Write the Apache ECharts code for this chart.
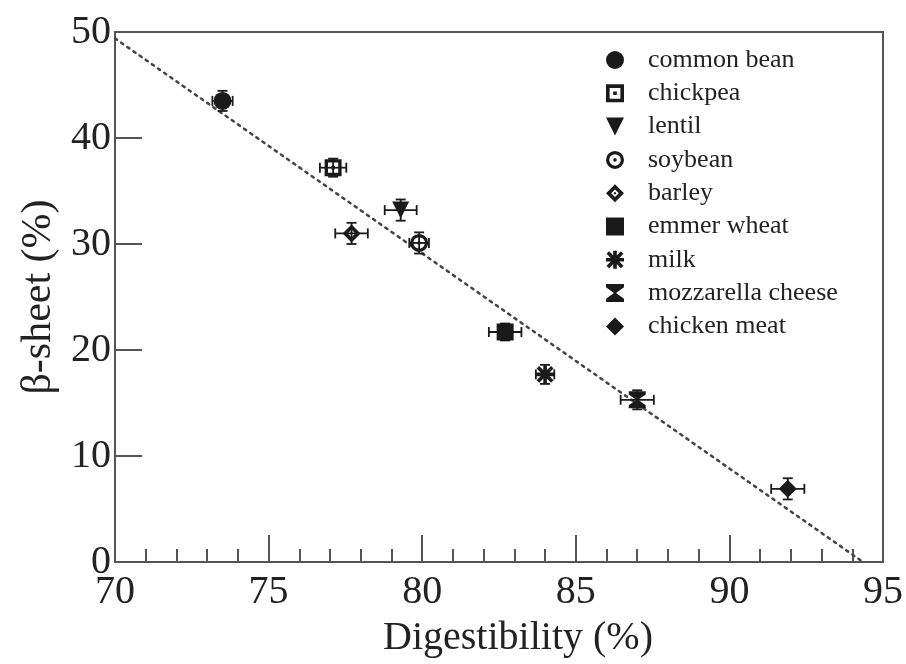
<!DOCTYPE html>
<html>
<head>
<meta charset="utf-8">
<script src="https://cdn.jsdelivr.net/npm/echarts@6/dist/echarts.min.js"></script>
<style>
  html, body { margin: 0; padding: 0; background: #fff; }
  #chart { width: 906px; height: 664px; }
</style>
</head>
<body>
<div id="chart"></div>
<script>
// values
var names = ['common bean', 'chickpea', 'lentil', 'soybean', 'barley',
  'emmer wheat', 'milk', 'mozzarella cheese', 'chicken meat'];
var digest = [73.5, 77.1, 79.3, 79.9, 77.7, 82.7, 84.0, 87.0, 91.9];
var betaSheet = [43.5, 37.2, 33.2, 30.1, 31.0, 21.7, 17.7, 15.3, 6.9];
var digestErr = [0.33, 0.43, 0.52, 0.32, 0.53, 0.53, 0.3, 0.54, 0.54];
var betaErr = [0.95, 0.85, 1.0, 1.0, 1.0, 0.8, 0.9, 0.9, 1.0];
var fitX = [70, 94.3];
var fitY = [49.4, 0.1];

var ink = '#1a1a1a';
var frame = '#555';
var font = '"Liberation Serif", "DejaVu Serif", serif';

var symbols = [
  'circle',
  'path://M0,0 L10,0 L10,10 L0,10 Z M2,2 L2,8 L8,8 L8,2 Z M4,4 L6,4 L6,6 L4,6 Z',
  'path://M0,0 L10,0 L5,10 Z',
  'path://M5,0 A5,5 0 1,1 5,10 A5,5 0 1,1 5,0 Z M5,1.8 A3.2,3.2 0 1,0 5,8.2 A3.2,3.2 0 1,0 5,1.8 Z M5,4 A1,1 0 1,1 5,6 A1,1 0 1,1 5,4 Z',
  'path://M5,0 L10,5 L5,10 L0,5 Z M5,2.9 L2.9,5 L5,7.1 L7.1,5 Z M5,4.2 L5.8,5 L5,5.8 L4.2,5 Z',
  'rect',
  'path://M0,4 L10,4 L10,6 L0,6 Z M4,0 L6,0 L6,10 L4,10 Z M1.7,0.3 L9.7,8.3 L8.3,9.7 L0.3,1.7 Z M8.3,0.3 L9.7,1.7 L1.7,9.7 L0.3,8.3 Z',
  'path://M0,0 L10,0 L10,1.8 L5.6,5 L10,8.2 L10,10 L0,10 L0,8.2 L4.4,5 L0,1.8 Z',
  'diamond'
];
var sizes = [18, 17, 17, 18, 18, 17, 18, 17, 18];

var errData = digest.map(function (x, i) {
  return [x, betaSheet[i], digestErr[i], betaErr[i]];
});

function renderErr(params, api) {
  var x = api.value(0), y = api.value(1), ex = api.value(2), ey = api.value(3);
  var c = api.coord([x, y]);
  var l = api.coord([x - ex, y]), r = api.coord([x + ex, y]);
  var t = api.coord([x, y + ey]), b = api.coord([x, y - ey]);
  var cap = 5;
  var st = { stroke: ink, lineWidth: 1.8 };
  return {
    type: 'group',
    children: [
      { type: 'line', shape: { x1: l[0], y1: c[1], x2: r[0], y2: c[1] }, style: st },
      { type: 'line', shape: { x1: l[0], y1: c[1] - cap, x2: l[0], y2: c[1] + cap }, style: st },
      { type: 'line', shape: { x1: r[0], y1: c[1] - cap, x2: r[0], y2: c[1] + cap }, style: st },
      { type: 'line', shape: { x1: c[0], y1: t[1], x2: c[0], y2: b[1] }, style: st },
      { type: 'line', shape: { x1: c[0] - cap, y1: t[1], x2: c[0] + cap, y2: t[1] }, style: st },
      { type: 'line', shape: { x1: c[0] - cap, y1: b[1], x2: c[0] + cap, y2: b[1] }, style: st }
    ]
  };
}

var series = [{
  type: 'line',
  data: fitX.map(function (x, i) { return [x, fitY[i]]; }),
  symbol: 'none',
  silent: true,
  lineStyle: { color: '#444', width: 2.5, type: [2.5, 5], cap: 'round' },
  z: 1
}, {
  type: 'custom',
  renderItem: renderErr,
  data: errData,
  silent: true,
  z: 2
}];

names.forEach(function (n, i) {
  series.push({
    name: n,
    type: 'scatter',
    data: [[digest[i], betaSheet[i]]],
    symbol: symbols[i],
    symbolSize: sizes[i],
    itemStyle: { color: ink, opacity: 1 },
    z: 3
  });
});

var chart = echarts.init(document.getElementById('chart'), null, { renderer: 'canvas' });
chart.setOption({
  animation: false,
  backgroundColor: '#fff',
  grid: {
    left: 115, right: 20, top: 32, bottom: 102,
    show: true, borderColor: frame, borderWidth: 2, backgroundColor: 'transparent'
  },
  legend: {
    orient: 'vertical',
    left: 601,
    top: 42,
    itemWidth: 18,
    itemHeight: 18,
    itemGap: 7.3,
    data: names.map(function (n, i) { return { name: n, icon: symbols[i] }; }),
    textStyle: { fontFamily: font, fontSize: 26, color: '#222', padding: [0, 0, 0, 19] },
    itemStyle: { color: ink },
    selectedMode: false
  },
  xAxis: {
    type: 'value',
    min: 70, max: 95, interval: 5,
    name: 'Digestibility (%)',
    nameLocation: 'middle',
    nameGap: 56,
    nameTextStyle: { fontFamily: font, fontSize: 40, color: '#222', padding: [0, 0, 0, 38] },
    axisLine: { lineStyle: { color: frame, width: 2 } },
    axisTick: { inside: true, length: 27, lineStyle: { color: frame, width: 2 } },
    minorTick: { show: true, splitNumber: 5, length: 13, lineStyle: { color: frame, width: 2 } },
    axisLabel: { fontFamily: font, fontSize: 40, color: '#222', margin: 10 },
    splitLine: { show: false }
  },
  yAxis: {
    type: 'value',
    min: 0, max: 50, interval: 10,
    name: 'β-sheet (%)',
    nameLocation: 'middle',
    nameGap: 54,
    nameTextStyle: { fontFamily: font, fontSize: 42, color: '#222' },
    axisLine: { lineStyle: { color: frame, width: 2 } },
    axisTick: { inside: true, length: 27, lineStyle: { color: frame, width: 2 } },
    axisLabel: { fontFamily: font, fontSize: 40, color: '#222', margin: 4 },
    splitLine: { show: false }
  },
  series: series
});
</script>
</body>
</html>
